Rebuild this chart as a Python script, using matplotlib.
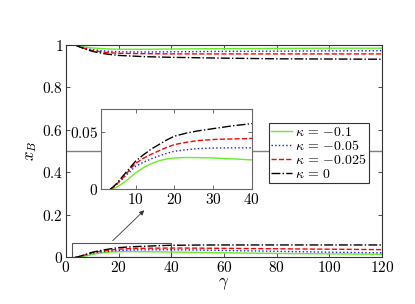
import matplotlib
matplotlib.use("Agg")
import matplotlib.pyplot as plt
from matplotlib.ticker import FuncFormatter, FixedLocator

plt.rcParams['mathtext.fontset'] = 'cm'
plt.rcParams['font.family'] = ['DejaVu Serif']

gamma = [3.5, 4, 5, 6, 7, 8, 9, 10, 12, 14, 16, 18, 20, 23, 26, 30, 35, 40, 50, 60, 80, 100, 120]

low_k0 = [0, 0.0012, 0.0045, 0.0085, 0.0125, 0.0165, 0.0205, 0.0244, 0.030, 0.035, 0.039, 0.043, 0.0464,
          0.049, 0.051, 0.053, 0.0555, 0.0574, 0.0585, 0.059, 0.059, 0.059, 0.059]
low_k025 = [0, 0.0011, 0.004, 0.0075, 0.011, 0.015, 0.019, 0.0224, 0.027, 0.0305, 0.0335, 0.0365, 0.039,
            0.041, 0.0425, 0.0435, 0.044, 0.0444, 0.044, 0.043, 0.041, 0.039, 0.037]
low_k05 = [0, 0.001, 0.0037, 0.007, 0.0102, 0.0135, 0.0168, 0.020, 0.0235, 0.0265, 0.029, 0.0313, 0.0332,
           0.0345, 0.0355, 0.036, 0.0362, 0.0362, 0.035, 0.033, 0.029, 0.025, 0.022]
low_k1 = [0, 0, 0.0015, 0.0035, 0.0058, 0.0085, 0.0113, 0.0141, 0.0188, 0.0222, 0.0248, 0.0264, 0.0273,
          0.0277, 0.0276, 0.0273, 0.0265, 0.0256, 0.024, 0.022, 0.019, 0.017, 0.015]

gamma_hi = [3.5, 5, 7, 10, 15, 20, 30, 40, 60, 80, 100, 120]
high_k0 = [1, 0.992, 0.982, 0.97, 0.958, 0.951, 0.945, 0.942, 0.938, 0.935, 0.934, 0.933]
high_k025 = [1, 0.993, 0.984, 0.974, 0.965, 0.961, 0.959, 0.958, 0.958, 0.958, 0.958, 0.958]
high_k05 = [1, 0.994, 0.986, 0.978, 0.971, 0.968, 0.967, 0.968, 0.97, 0.971, 0.972, 0.973]
high_k1 = [1, 0.996, 0.991, 0.986, 0.982, 0.98, 0.98, 0.981, 0.983, 0.984, 0.985, 0.985]

labels = [r'$\kappa\,=\,{-}0.1$', r'$\kappa\,=\,{-}0.05$', r'$\kappa\,=\,{-}0.025$', r'$\kappa\,=\,0$']
colors = ['#66ee22', '#1a1aff', '#ff0000', '#000000']
styles = ['-', ':', '--', '-.']
lows = [low_k1, low_k05, low_k025, low_k0]
highs = [high_k1, high_k05, high_k025, high_k0]

main_xticks = [0, 20, 40, 60, 80, 100, 120]
main_yticks = [0, 0.2, 0.4, 0.6, 0.8, 1]
inset_xticks = [10, 20, 30, 40]
inset_yticks = [0, 0.05]

fmt = FuncFormatter(lambda v, p: '$%g$' % v)

fig = plt.figure(figsize=(4.15, 3.04), dpi=100)
ax = fig.add_axes([0.159, 0.153, 0.761, 0.699])

lines = []
for lo, hi, c, s, lab in zip(lows, highs, colors, styles, labels):
    l, = ax.plot(gamma, lo, color=c, ls=s, lw=1.0, label=lab)
    ax.plot(gamma_hi, hi, color=c, ls=s, lw=1.0)
    lines.append(l)

ax.axhline(0.5, color='#808080', lw=1.0, zorder=0.5)
ax.add_patch(plt.Rectangle((2.2, 0), 40 - 2.2, 0.07, fill=False, ec='#555555', lw=0.8))
ax.annotate('', xy=(30.5, 0.231), xytext=(17, 0.07),
            arrowprops=dict(arrowstyle='-|>', color='#333333', lw=0.6, mutation_scale=7))

ax.set_xlim(0, 120)
ax.set_ylim(0, 1)
ax.xaxis.set_major_locator(FixedLocator(main_xticks))
ax.yaxis.set_major_locator(FixedLocator(main_yticks))
ax.xaxis.set_major_formatter(fmt)
ax.yaxis.set_major_formatter(fmt)
ax.tick_params(direction='in', top=True, right=True, labelsize=11, length=3, width=0.6, colors='#333333', labelcolor='black', pad=2)
for sp in ax.spines.values():
    sp.set_color('#333333')
    sp.set_linewidth(0.8)
ax.set_xlabel(r'$\gamma$', fontsize=12, labelpad=0)
ax.set_ylabel(r'$x_B$', fontsize=12, labelpad=2)

leg = ax.legend(handles=lines, loc='upper left', bbox_to_anchor=(0.642, 0.633),
                fontsize=10, frameon=True, fancybox=False, framealpha=1,
                edgecolor='#333333', borderpad=0.15, labelspacing=0.0,
                handlelength=1.5, handletextpad=0.25, borderaxespad=0)
leg.get_frame().set_linewidth(0.8)
leg.set_zorder(5)

ins = fig.add_axes([0.2427, 0.378, 0.3639, 0.2625])
ins.set_zorder(4)
for lo, c, s in zip(lows, colors, styles):
    ins.plot(gamma, lo, color=c, ls=s, lw=1.0)
ins.set_xlim(1, 40)
ins.set_ylim(0, 0.07)
ins.xaxis.set_major_locator(FixedLocator(inset_xticks))
ins.yaxis.set_major_locator(FixedLocator(inset_yticks))
ins.xaxis.set_major_formatter(fmt)
ins.yaxis.set_major_formatter(fmt)
ins.tick_params(direction='in', top=True, right=True, labelsize=11, length=3, width=0.6, colors='#555555', labelcolor='black', pad=2)
for sp in ins.spines.values():
    sp.set_color('#666666')
    sp.set_linewidth(0.8)

fig.savefig('out.png', dpi=100)
